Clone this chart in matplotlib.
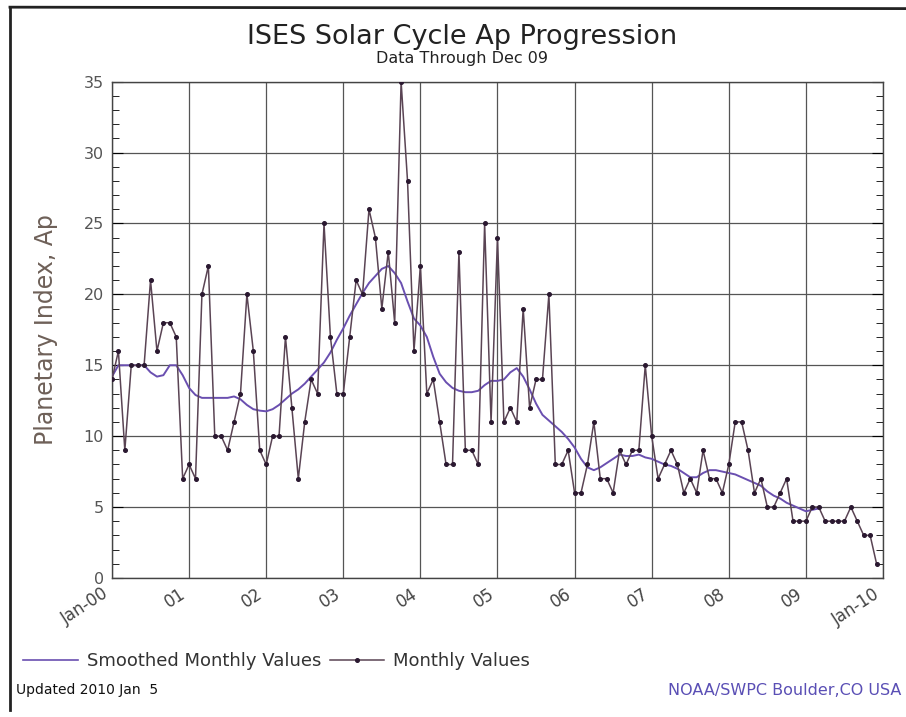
import numpy as np
import matplotlib.pyplot as plt
from matplotlib.lines import Line2D

# monthly Ap, Jan 2000 .. Dec 2009
monthly = [
    14, 16, 9, 15, 15, 15, 21, 16, 18, 18, 17, 7,      # 2000
    8, 7, 20, 22, 10, 10, 9, 11, 13, 20, 16, 9,        # 2001
    8, 10, 10, 17, 12, 7, 11, 14, 13, 25, 17, 13,      # 2002
    13, 17, 21, 20, 26, 24, 19, 23, 18, 35, 28, 16,    # 2003
    22, 13, 14, 11, 8, 8, 23, 9, 9, 8, 25, 11,         # 2004
    24, 11, 12, 11, 19, 12, 14, 14, 20, 8, 8, 9,       # 2005
    6, 6, 8, 11, 7, 7, 6, 9, 8, 9, 9, 15,              # 2006
    10, 7, 8, 9, 8, 6, 7, 6, 9, 7, 7, 6,               # 2007
    8, 11, 11, 9, 6, 7, 5, 5, 6, 7, 4, 4,              # 2008
    4, 5, 5, 4, 4, 4, 4, 5, 4, 3, 3, 1,                # 2009
]

# smoothed monthly Ap, Jan 2000 .. Mar 2009
smoothed = [
    14.2, 15.0, 15.0, 15.0, 15.0, 15.0, 14.5, 14.2, 14.3, 15.0, 15.0, 14.3,
    13.4, 12.9, 12.7, 12.7, 12.7, 12.7, 12.7, 12.8, 12.6, 12.2, 11.9, 11.8,
    11.75, 11.9, 12.2, 12.6, 13.0, 13.3, 13.7, 14.2, 14.7, 15.2, 15.9, 16.8,
    17.6, 18.5, 19.3, 20.1, 20.8, 21.3, 21.8, 22.0, 21.5, 20.8, 19.5, 18.3,
    17.8, 17.0, 15.6, 14.4, 13.8, 13.4, 13.2, 13.1, 13.1, 13.2, 13.6, 13.9,
    13.9, 14.0, 14.5, 14.8, 14.2, 13.3, 12.3, 11.5, 11.1, 10.7, 10.3, 9.8,
    9.2, 8.4, 7.8, 7.6, 7.8, 8.1, 8.4, 8.7, 8.6, 8.6, 8.7, 8.5,
    8.4, 8.2, 8.0, 7.9, 7.7, 7.4, 7.1, 7.1, 7.4, 7.6, 7.6, 7.5,
    7.4, 7.3, 7.1, 6.9, 6.7, 6.5, 6.1, 5.8, 5.6, 5.3, 5.1, 4.9,
    4.7, 4.8, 4.9,
]

xlabels = ['Jan-00', '01', '02', '03', '04', '05', '06', '07', '08', '09', 'Jan-10']

x_m = np.arange(len(monthly)) / 12.0
x_s = np.arange(len(smoothed)) / 12.0

fig = plt.figure(figsize=(9.06, 7.17), dpi=100)
ax = fig.add_axes([0.1236, 0.194, 0.851, 0.692])

ax.plot(x_s, smoothed, '-', color='#6a4fb0', lw=1.4, zorder=3)
ax.plot(x_m, monthly, '-', color='#5a4454', lw=1.1, marker='o', ms=2.6,
        mfc='#2a1830', mec='#2a1830', zorder=4)

ax.set_xlim(0, 10)
ax.set_ylim(0, 35)
ax.set_xticks(range(11))
ax.set_xticklabels(xlabels, rotation=33, ha='right', va='top',
                   fontsize=12, color='#444444')
ax.set_yticks(range(0, 36, 5))
ax.set_yticks(range(0, 36), minor=True)
ax.tick_params(axis='y', which='major', labelsize=11.5, labelcolor='#555555',
               direction='in', length=8, right=True, pad=6)
ax.tick_params(axis='y', which='minor', direction='in', length=5, right=True)
ax.tick_params(axis='x', length=0, pad=5)
ax.grid(True, color='#555555', lw=0.9)
for s in ax.spines.values():
    s.set_color('#444444')
    s.set_linewidth(1.0)

ax.set_ylabel('Planetary Index, Ap', fontsize=17, color='#6e6058', labelpad=18)

fig.text(0.51, 0.948, 'ISES Solar Cycle Ap Progression', ha='center', va='center',
         fontsize=19.5, color='#222222')
fig.text(0.51, 0.919, 'Data Through Dec 09', ha='center', va='center',
         fontsize=11.5, color='#222222')

handles = [Line2D([], [], color='#6a4fb0', lw=1.2),
           Line2D([], [], color='#5a4454', lw=1.1, marker='o', ms=2.6,
                  mfc='#2a1830', mec='#2a1830')]
fig.legend(handles, ['Smoothed Monthly Values', 'Monthly Values'],
           loc='center left', bbox_to_anchor=(0.008, 0.078), ncol=2,
           frameon=False, fontsize=13, handlelength=3.0, columnspacing=0.5,
           handletextpad=0.5, labelcolor='#333333')

fig.text(0.018, 0.037, 'Updated 2010 Jan  5', ha='left', va='center',
         fontsize=10, color='#111111')
fig.text(0.995, 0.037, 'NOAA/SWPC Boulder,CO USA', ha='right', va='center',
         fontsize=11.5, color='#5a4fb5')

# scanned page frame
fig.add_artist(Line2D([0.011, 0.011], [0.01, 0.99], color='#222222', lw=2,
                      transform=fig.transFigure))
fig.add_artist(Line2D([0.011, 1.0], [0.99, 0.988], color='#222222', lw=2,
                      transform=fig.transFigure))

fig.savefig('out.png', dpi=100)
